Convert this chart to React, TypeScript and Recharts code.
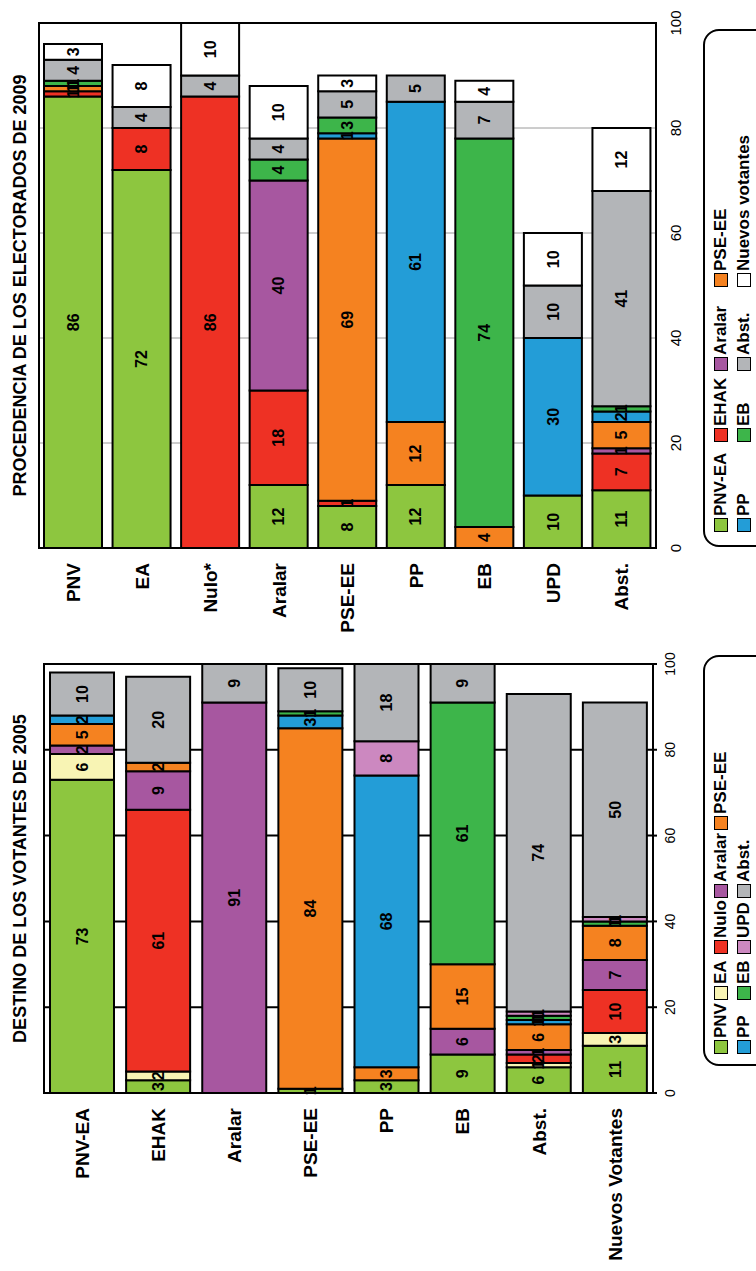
import {
  BarChart,
  Bar,
  XAxis,
  YAxis,
  CartesianGrid,
  LabelList,
  ReferenceArea,
  Legend,
} from "recharts";

const font = '"Liberation Sans", Arial, sans-serif';

// ---- PROCEDENCIA DE LOS ELECTORADOS DE 2009 ----
const destinos2009 = ["PNV", "EA", "Nulo*", "Aralar", "PSE-EE", "PP", "EB", "UPD", "Abst."];
const origenes2005 = ["PNV-EA", "EHAK", "Aralar", "PSE-EE", "PP", "EB", "Abst.", "Nuevos votantes"];
const origenColors = ["#8DC63F", "#EE3124", "#A757A0", "#F58220", "#239DD7", "#3DB54A", "#B3B5B8", "#FFFFFF"];
// one array per 2005 origin, one value per 2009 destination
const desdePnvEa = [86, 72, 0, 12, 8, 12, 0, 10, 11];
const desdeEhak = [1, 8, 86, 18, 1, 0, 0, 0, 7];
const desdeAralar = [0, 0, 0, 40, 0, 0, 0, 0, 1];
const desdePse = [1, 0, 0, 0, 69, 12, 4, 0, 5];
const desdePp = [0, 0, 0, 0, 1, 61, 0, 30, 2];
const desdeEb = [1, 0, 0, 4, 3, 0, 74, 0, 1];
const desdeAbst = [4, 4, 4, 4, 5, 5, 7, 10, 41];
const desdeNuevos = [3, 8, 10, 10, 3, 0, 4, 10, 12];

// ---- DESTINO DE LOS VOTANTES DE 2005 ----
const votantes2005 = ["PNV-EA", "EHAK", "Aralar", "PSE-EE", "PP", "EB", "Abst.", "Nuevos Votantes"];
const destinosVoto = ["PNV", "EA", "Nulo", "Aralar", "PSE-EE", "PP", "EB", "UPD", "Abst."];
const destinoColors = ["#8DC63F", "#F8F4B4", "#EE3124", "#A757A0", "#F58220", "#239DD7", "#3DB54A", "#CC88C0", "#B3B5B8"];
const haciaPnv = [73, 3, 0, 1, 3, 9, 6, 11];
const haciaEa = [6, 2, 0, 0, 0, 0, 1, 3];
const haciaNulo = [0, 61, 0, 0, 0, 0, 2, 10];
const haciaAralar = [2, 9, 91, 0, 0, 6, 1, 7];
const haciaPse = [5, 2, 0, 84, 3, 15, 6, 8];
const haciaPp = [2, 0, 0, 3, 68, 0, 1, 0];
const haciaEb = [0, 0, 0, 1, 0, 61, 1, 1];
const haciaUpd = [0, 0, 0, 0, 8, 0, 1, 1];
const haciaAbst = [10, 20, 9, 10, 18, 9, 74, 50];

const valueTicks = [0, 20, 40, 60, 80, 100];

function buildRows(cats: string[], keys: string[], series: number[][]) {
  return cats.map((c, i) => {
    const row: Record<string, any> = { name: c };
    keys.forEach((k, j) => {
      row[k] = series[j][i];
    });
    return row;
  });
}

const procedenciaData = buildRows(destinos2009, origenes2005, [
  desdePnvEa, desdeEhak, desdeAralar, desdePse, desdePp, desdeEb, desdeAbst, desdeNuevos,
]);
const destinoData = buildRows(votantes2005, destinosVoto, [
  haciaPnv, haciaEa, haciaNulo, haciaAralar, haciaPse, haciaPp, haciaEb, haciaUpd, haciaAbst,
]);

const hideZero = (v: any) => (v ? v : "");

// legend keeps the series order (recharts sorts its payload otherwise)
const makeLegend = (names: string[], colors: string[], colWidths: number[], padLeft: number) =>
  () => (
    <div
      style={{
        border: "2px solid #000",
        borderRadius: 16,
        height: 80,
        boxSizing: "border-box",
        paddingTop: 6,
        paddingLeft: padLeft,
        background: "#fff",
      }}
    >
      <div
        style={{
          display: "grid",
          gridTemplateColumns: colWidths.map((w) => w + "px").join(" "),
          rowGap: 3,
        }}
      >
        {names.map((n, i) => (
          <div
            key={n}
            style={{
              display: "flex",
              alignItems: "center",
              fontFamily: font,
              fontSize: 17,
              fontWeight: "bold",
              lineHeight: "20px",
              whiteSpace: "nowrap",
              color: "#000",
            }}
          >
            <span
              style={{
                display: "inline-block",
                width: 12,
                height: 12,
                border: "1px solid #000",
                background: colors[i],
                marginRight: 2,
              }}
            />
            {n}
          </div>
        ))}
      </div>
    </div>
  );

const ProcedenciaChart = () => (
  <BarChart
    width={640}
    height={756}
    layout="vertical"
    data={procedenciaData}
    margin={{ top: 39, right: 23, bottom: 70, left: 0 }}
  >
    <CartesianGrid horizontal={false} stroke="#9a9a9a" strokeWidth={1} />
    <XAxis
      type="number"
      domain={[0, 100]}
      ticks={valueTicks}
      height={30}
      axisLine={false}
      tickLine={false}
      tickSize={0}
      tickMargin={14}
      tick={{ fontSize: 15, fill: "#000", fontFamily: font }}
    />
    <YAxis
      type="category"
      dataKey="name"
      width={92}
      interval={0}
      axisLine={false}
      tickLine={false}
      tickSize={0}
      tickMargin={15}
      tick={{ fontSize: 19, fontWeight: "bold", fill: "#000", fontFamily: font }}
    />
    {origenes2005.map((k, i) => (
      <Bar
        key={k}
        dataKey={k}
        name={k}
        stackId="a"
        fill={origenColors[i]}
        stroke="#000"
        strokeWidth={2}
        barSize={58}
        isAnimationActive={false}
      >
        <LabelList
          dataKey={k}
          position="center"
          formatter={hideZero}
          fill="#000"
          fontSize={16}
          fontWeight="bold"
          fontFamily={font}
        />
      </Bar>
    ))}
    <ReferenceArea x1={0} x2={100} fill="none" stroke="#000" strokeWidth={2} />
    <Legend
      layout="horizontal"
      verticalAlign="middle"
      align="center"
      wrapperStyle={{ left: 93, top: 703, width: 518, height: 80 }}
      content={makeLegend(origenes2005, origenColors, [90, 71, 84, 170], 13)}
    />
  </BarChart>
);

const DestinoChart = () => (
  <BarChart
    width={631}
    height={756}
    layout="vertical"
    data={destinoData}
    margin={{ top: 44, right: 24, bottom: 73, left: 0 }}
  >
    <CartesianGrid horizontal={false} stroke="#000" strokeWidth={2} />
    <XAxis
      type="number"
      domain={[0, 100]}
      ticks={valueTicks}
      height={30}
      axisLine={false}
      tickLine={{ stroke: "#000", strokeWidth: 2 }}
      tickSize={4}
      tickMargin={8}
      tick={{ fontSize: 14, fill: "#000", fontFamily: font }}
    />
    <YAxis
      type="category"
      dataKey="name"
      width={178}
      interval={0}
      axisLine={false}
      tickLine={false}
      tickSize={0}
      tickMargin={15}
      tick={{ fontSize: 19, fontWeight: "bold", fill: "#000", fontFamily: font }}
    />
    {destinosVoto.map((k, i) => (
      <Bar
        key={k}
        dataKey={k}
        name={k}
        stackId="a"
        fill={destinoColors[i]}
        stroke="#000"
        strokeWidth={2}
        barSize={64}
        isAnimationActive={false}
      >
        <LabelList
          dataKey={k}
          position="center"
          formatter={hideZero}
          fill="#000"
          fontSize={16}
          fontWeight="bold"
          fontFamily={font}
        />
      </Bar>
    ))}
    <ReferenceArea x1={0} x2={100} fill="none" stroke="#000" strokeWidth={2} />
    <Legend
      layout="horizontal"
      verticalAlign="middle"
      align="center"
      wrapperStyle={{ left: 205, top: 703, width: 411, height: 80 }}
      content={makeLegend(destinosVoto, destinoColors, [54, 46, 56, 68, 100], 10)}
    />
  </BarChart>
);

const titleStyle = {
  position: "absolute" as const,
  top: 11,
  fontFamily: font,
  fontSize: 18,
  fontWeight: "bold" as const,
  lineHeight: "18px",
  whiteSpace: "nowrap" as const,
  textAlign: "center" as const,
  color: "#000",
};

export default function App() {
  return (
    <div
      style={{
        position: "absolute",
        top: 0,
        left: 0,
        width: 756,
        height: 1271,
        overflow: "hidden",
        background: "#fff",
      }}
    >
      <div
        style={{
          position: "absolute",
          top: 0,
          left: 0,
          width: 1271,
          height: 756,
          transformOrigin: "0 0",
          transform: "translateY(1271px) rotate(-90deg)",
          overflow: "hidden",
          background: "#fff",
        }}
      >
        <div style={{ position: "absolute", left: 0, top: 0 }}>
          <DestinoChart />
        </div>
        <div style={{ position: "absolute", left: 631, top: 0 }}>
          <ProcedenciaChart />
        </div>
        <div style={{ ...titleStyle, left: 178, width: 429 }}>DESTINO DE LOS VOTANTES DE 2005</div>
        <div style={{ ...titleStyle, left: 723, width: 525 }}>PROCEDENCIA DE LOS ELECTORADOS DE 2009</div>
      </div>
    </div>
  );
}
